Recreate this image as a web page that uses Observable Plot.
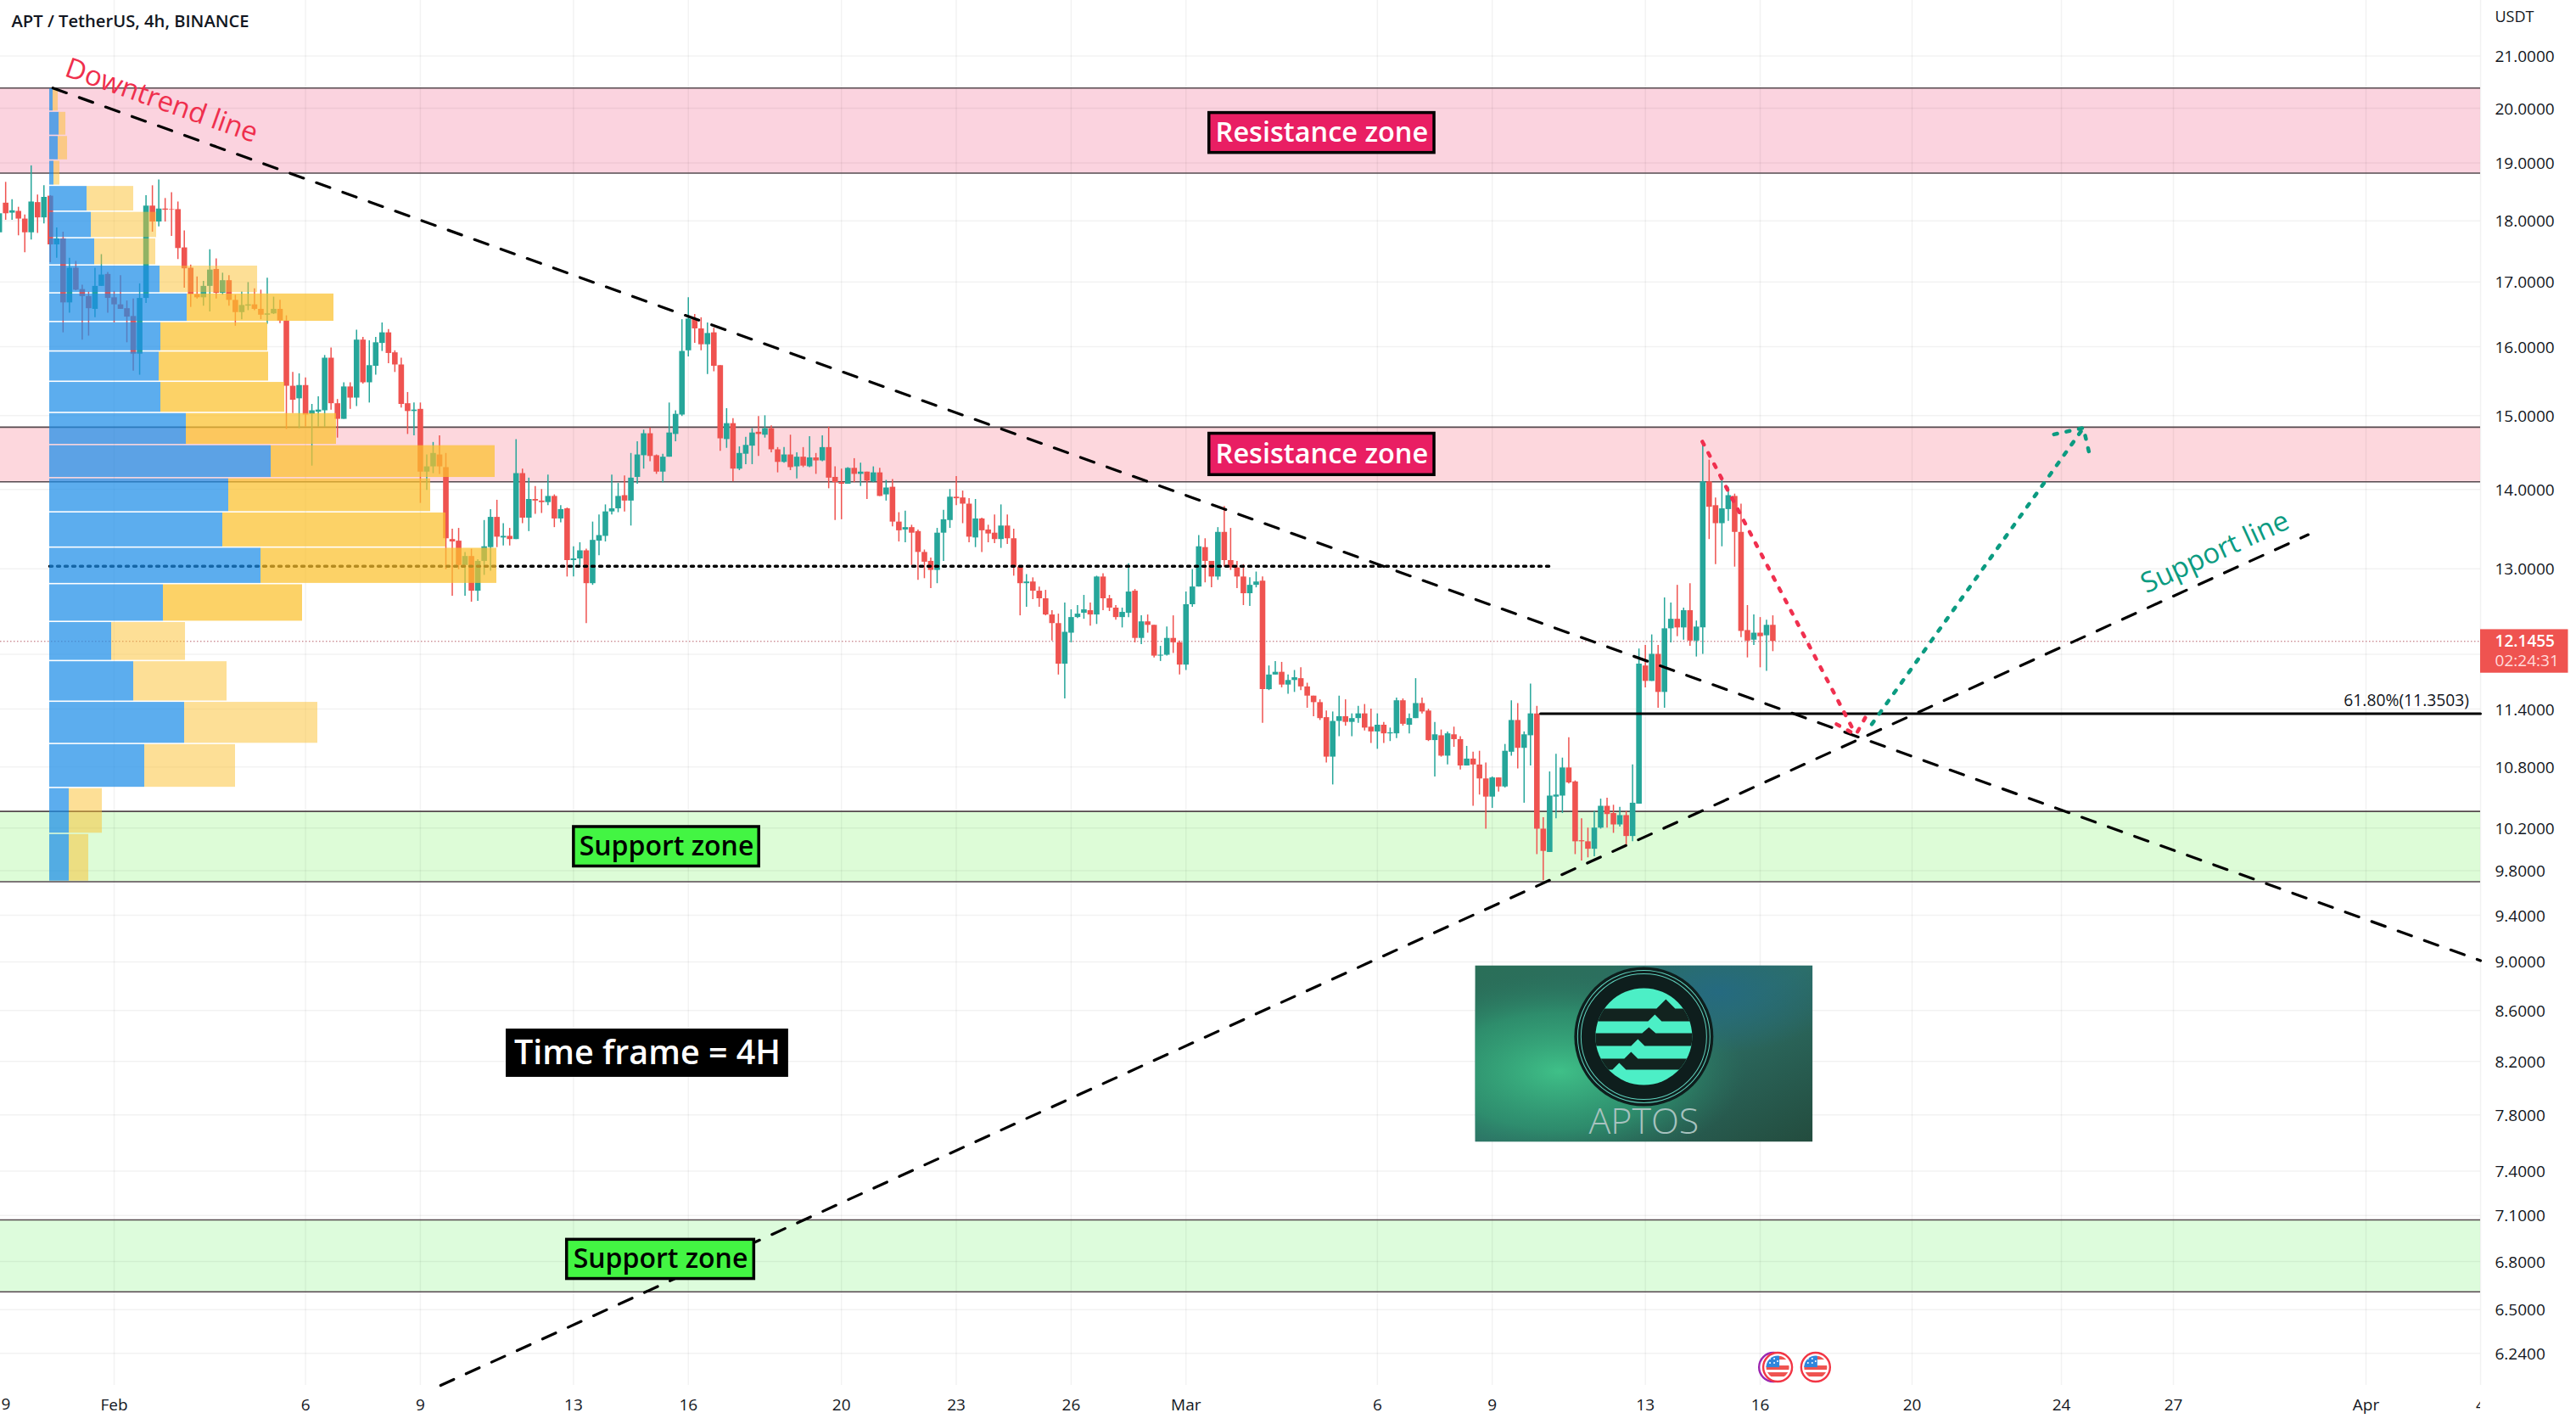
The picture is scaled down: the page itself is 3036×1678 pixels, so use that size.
<!DOCTYPE html>
<html>
<head>
<meta charset="utf-8">
<script src="https://cdn.jsdelivr.net/npm/d3@7"></script>
<script src="https://cdn.jsdelivr.net/npm/@observablehq/plot@0.6"></script>
<style>html,body{margin:0;padding:0;background:#fff;overflow:hidden}svg{display:block}</style>
</head>
<body>
<div id="chart"></div>
<script>
// APT/USDT 4h candles: [open, high, low, close]. First bar is 18 bars before 1 Feb 2023.
const barsLateJan = [[17.80,18.22,17.80,18.12],[18.30,18.66,18.01,18.12],[18.13,18.36,18.01,18.17],[18.16,18.23,17.75,18.03],[18.03,18.10,17.47,17.80],[17.80,18.95,17.68,18.32],[18.31,18.44,17.79,18.05],[18.05,18.60,17.95,18.40],[18.42,18.43,17.31,17.60],[17.60,17.88,17.38,17.70],[17.70,17.81,16.21,16.67],[16.67,17.38,16.51,17.22],[17.22,17.33,16.86,16.87],[16.88,16.95,16.10,16.77],[16.77,16.84,16.16,16.58],[16.57,17.22,16.44,16.93],[16.93,17.44,16.93,17.11],[17.12,17.15,16.51,16.74]];
const barsFeb1 = [[16.75,16.85,16.36,16.64],[16.64,17.10,16.57,16.57],[16.58,16.70,16.06,16.45],[16.46,16.73,15.64,15.89],[15.89,16.97,15.58,16.74],[16.74,18.43,16.66,18.25],[18.25,18.60,17.81,17.98],[17.98,18.70,17.90,18.20],[18.20,18.38,17.98,18.18],[18.19,18.48,17.74,18.18],[18.19,18.32,17.36,17.54],[17.55,17.83,16.90,17.21],[17.22,17.27,16.60,16.80],[16.80,17.08,16.73,16.75],[16.75,17.01,16.62,16.93],[16.93,17.52,16.53,17.19],[17.20,17.37,16.73,16.82],[16.82,17.14,16.79,17.02],[17.02,17.10,16.62,16.71],[16.71,16.79,16.31,16.52],[16.52,16.84,16.41,16.63],[16.62,16.99,16.55,16.64],[16.64,16.89,16.55,16.57],[16.57,16.87,16.41,16.48],[16.48,17.06,16.34,16.50],[16.50,16.76,16.49,16.57],[16.57,16.71,16.35,16.39],[16.39,16.47,14.81,15.42],[15.42,15.62,15.03,15.22],[15.24,15.60,14.82,15.43],[15.43,15.54,14.84,15.01],[15.02,15.16,14.31,15.07],[15.05,15.27,14.84,15.08],[15.07,15.87,14.84,15.83],[15.83,15.98,15.08,15.17],[15.17,15.23,14.69,14.95],[14.95,15.47,14.95,15.41],[15.41,15.47,15.09,15.25],[15.25,16.25,15.13,16.10],[16.10,16.14,15.45,15.47],[15.47,16.09,15.18,15.72],[15.71,16.14,15.58,16.06],[16.05,16.36,15.93,16.21],[16.21,16.26,15.75,15.90],[15.91,15.94,15.62,15.73],[15.73,15.83,15.11,15.16],[15.17,15.33,14.74,15.06],[15.06,15.18,14.72,15.08],[15.09,15.18,13.82,14.23],[14.23,14.46,13.99,14.30],[14.30,14.63,14.21,14.48],[14.46,14.72,14.20,14.30]];
const barsFeb2 = [[14.29,14.48,12.99,13.37],[13.36,13.49,12.67,13.33],[13.34,13.50,12.99,13.04],[13.04,13.20,12.67,13.15],[13.15,13.24,12.60,12.73],[12.73,13.11,12.61,13.09],[13.09,13.60,12.92,13.27],[13.26,13.74,12.97,13.64],[13.64,13.86,13.26,13.39],[13.38,13.56,13.28,13.40],[13.40,13.50,13.28,13.36],[13.36,14.67,13.36,14.21],[14.21,14.27,13.56,13.63],[13.63,14.15,13.46,13.87],[13.87,14.04,13.68,13.85],[13.85,14.00,13.69,13.83],[13.83,14.19,13.79,13.91],[13.91,13.93,13.51,13.62],[13.62,13.79,13.57,13.74],[13.75,13.76,12.90,13.10],[13.10,13.27,12.90,13.12],[13.12,13.32,13.02,13.22],[13.22,13.24,12.35,12.82],[12.82,13.58,12.80,13.35],[13.34,13.67,13.16,13.41],[13.40,13.80,13.33,13.71],[13.71,14.19,13.67,13.75],[13.75,14.08,13.70,13.91],[13.92,14.18,13.71,13.85],[13.85,14.48,13.53,14.15],[14.16,14.64,14.07,14.46],[14.45,14.80,14.27,14.75],[14.75,14.83,14.37,14.44],[14.45,14.46,14.20,14.23],[14.23,14.47,14.09,14.43],[14.43,15.18,14.43,14.76],[14.74,15.07,14.64,15.02],[15.01,16.41,14.99,15.93],[15.94,16.75,15.85,16.42],[16.42,16.49,16.05,16.27],[16.27,16.44,15.94,16.03],[16.03,16.36,15.59,16.20],[16.21,16.28,15.63,15.71],[15.72,15.72,14.51,14.68],[14.67,15.10,14.55,14.89],[14.89,14.96,14.10,14.27],[14.27,14.57,14.25,14.48],[14.47,14.70,14.33,14.59],[14.58,14.82,14.33,14.76],[14.77,14.99,14.44,14.74],[14.73,15.00,14.69,14.82],[14.82,14.86,14.49,14.53],[14.53,14.56,14.22,14.36],[14.36,14.56,14.35,14.46],[14.46,14.73,14.25,14.29],[14.30,14.49,14.14,14.43],[14.43,14.56,14.29,14.31],[14.30,14.71,14.29,14.42],[14.42,14.48,14.20,14.38],[14.38,14.72,14.37,14.56],[14.56,14.84,14.01,14.15],[14.16,14.30,13.60,14.09],[14.09,14.27,13.61,14.07],[14.07,14.29,14.07,14.28],[14.28,14.41,14.09,14.20],[14.20,14.35,14.04,14.23],[14.23,14.23,13.87,14.11],[14.10,14.30,14.09,14.22],[14.22,14.28,13.91,13.91]];
const barsFeb3 = [[13.93,14.12,13.85,14.02],[14.03,14.13,13.52,13.58],[13.58,13.70,13.33,13.47],[13.48,13.72,13.32,13.51],[13.51,13.54,13.04,13.44],[13.46,13.48,12.86,13.20],[13.20,13.23,12.88,13.08],[13.09,13.13,12.76,12.98],[12.98,13.50,12.82,13.44],[13.44,13.73,13.09,13.61],[13.60,14.00,13.50,13.90],[13.90,14.17,13.79,13.88],[13.89,13.98,13.56,13.81],[13.81,13.88,13.32,13.39],[13.38,13.87,13.26,13.62],[13.62,13.63,13.20,13.47],[13.48,13.54,13.32,13.43],[13.44,13.67,13.31,13.36],[13.36,13.80,13.25,13.53],[13.53,13.67,13.30,13.37],[13.37,13.49,12.91,13.02],[13.02,13.03,12.44,12.82],[12.82,12.93,12.54,12.84],[12.84,12.89,12.63,12.73],[12.73,12.78,12.54,12.64],[12.64,12.74,12.44,12.45],[12.45,12.50,12.15,12.35],[12.35,12.46,11.77,11.89],[11.89,12.59,11.51,12.25],[12.24,12.51,12.13,12.42],[12.42,12.56,12.41,12.46],[12.47,12.68,12.40,12.51],[12.50,12.59,12.32,12.45],[12.45,12.91,12.34,12.90],[12.90,12.94,12.50,12.64],[12.64,12.68,12.49,12.53],[12.53,12.56,12.39,12.42],[12.42,12.53,12.30,12.48],[12.47,13.06,12.42,12.72],[12.73,12.75,12.13,12.18],[12.18,12.44,12.11,12.37],[12.37,12.45,12.24,12.33],[12.33,12.33,11.96,11.98],[11.98,12.09,11.92,11.99],[11.99,12.31,11.98,12.18],[12.18,12.44,12.01,12.13],[12.13,12.15,11.77,11.88],[11.88,12.72,11.82,12.57],[12.57,12.99,12.54,12.78],[12.78,13.41,12.78,13.27],[13.26,13.37,12.83,13.09],[13.09,13.09,12.77,12.90],[12.90,13.51,12.86,13.45],[13.45,13.78,13.02,13.10],[13.10,13.50,12.98,13.01],[13.01,13.09,12.76,12.90],[12.90,13.05,12.56,12.70],[12.70,12.89,12.55,12.80],[12.80,12.96,12.77,12.84],[12.85,12.90,11.25,11.61],[11.61,11.87,11.60,11.77],[11.77,11.92,11.77,11.80],[11.80,11.91,11.63,11.66],[11.66,11.77,11.56,11.71],[11.71,11.82,11.58,11.74],[11.73,11.85,11.60,11.64],[11.64,11.68,11.41,11.54],[11.54,11.54,11.32,11.47],[11.47,11.50,11.28,11.30]];
const barsMar = [[11.31,11.38,10.84,10.90],[10.90,11.37,10.62,11.27],[11.27,11.54,11.11,11.32],[11.32,11.50,11.22,11.26],[11.26,11.35,11.11,11.30],[11.30,11.43,11.25,11.35],[11.35,11.45,11.17,11.20],[11.21,11.40,11.04,11.16],[11.16,11.35,10.98,11.23],[11.23,11.26,11.04,11.14],[11.14,11.20,11.06,11.15],[11.14,11.52,11.09,11.49],[11.49,11.51,11.22,11.24],[11.23,11.35,11.14,11.30],[11.30,11.73,11.30,11.46],[11.46,11.52,11.35,11.37],[11.38,11.40,11.06,11.07],[11.07,11.26,10.70,11.13],[11.12,11.18,10.90,10.91],[10.91,11.16,10.82,11.14],[11.13,11.21,11.00,11.08],[11.08,11.11,10.77,10.81],[10.81,11.01,10.81,10.88],[10.88,10.95,10.41,10.82],[10.82,10.96,10.52,10.68],[10.68,10.84,10.19,10.50],[10.50,10.70,10.39,10.69],[10.69,10.69,10.55,10.60],[10.60,11.03,10.59,10.96],[10.95,11.49,10.91,11.28],[11.28,11.46,10.78,10.99],[10.99,11.16,10.44,11.13],[11.12,11.67,10.81,11.35],[11.35,11.43,9.95,10.19],[10.19,10.30,9.71,9.98],[9.97,10.75,9.97,10.51],[10.50,10.93,10.29,10.52],[10.51,10.89,10.34,10.79],[10.79,11.10,10.63,10.64],[10.65,10.66,9.95,10.07],[10.08,10.29,9.89,10.07],[10.07,10.20,9.92,10.00],[10.00,10.36,9.93,10.20],[10.20,10.48,10.19,10.41],[10.41,10.49,10.20,10.33],[10.34,10.42,10.15,10.23],[10.23,10.40,10.21,10.32],[10.32,10.36,10.03,10.12],[10.12,10.82,10.07,10.44],[10.43,12.06,10.43,11.89],[11.87,12.10,11.63,11.70],[11.70,12.22,11.70,12.00],[12.00,12.10,11.41,11.58],[11.58,12.65,11.41,12.29],[12.29,12.59,12.13,12.40],[12.40,12.80,12.20,12.30],[12.30,12.53,12.16,12.50],[12.50,12.82,12.09,12.15],[12.15,12.38,11.97,12.31],[12.30,14.65,12.00,14.10],[14.10,14.39,13.36,13.77],[13.79,13.89,13.05,13.56],[13.56,14.14,13.27,13.75],[13.74,14.03,13.59,13.92],[13.91,13.94,13.02,13.45],[13.45,13.81,12.19,12.26],[12.27,12.56,11.96,12.15],[12.16,12.45,12.10,12.24],[12.24,12.42,11.85,12.20],[12.21,12.39,11.81,12.33],[12.33,12.44,12.03,12.1455]];
const firstBar = -18;

// Price axis and time axis
const priceTicks = [21,20,19,18,17,16,15,14,13,11.4,10.8,10.2,9.8,9.4,9,8.6,8.2,7.8,7.4,7.1,6.8,6.5,6.24];
const gridPrices = [...priceTicks, 12];
const dayTickDays = [5,8,12,15,19,22,25,33,36,40,43,47,51,54,62];
const dayTickLabels = ["6","9","13","16","20","23","26","6","9","13","16","20","24","27","4"];
const monthTickDays = [0,28,59];
const monthTickLabels = ["Feb","Mar","Apr"];
const edgeTickLabel = "9";

// Volume profile: price bin edges, then volume bought and sold per bin
const profileEdges = [20.38,19.935,19.49,19.045,18.6,18.155,17.71,17.265,16.82,16.375,15.93,15.485,15.04,14.595,14.15,13.705,13.26,12.815,12.37,11.925,11.48,11.035,10.59,10.145,9.7];
const profileUp = [4,11,10,5,44,49,53,130,162,131,129,131,161,261,211,204,249,134,73,99,159,112,23,23];
const profileDown = [6,8,11,7,55,77,72,115,173,126,129,146,177,264,238,263,278,164,87,110,157,107,39,23];
const profileInValueArea = [0,0,0,0,0,0,0,0,1,1,1,1,1,1,1,1,1,1,0,0,0,0,0,0];
const profileStartDay = -1.684;
const profileDayPerVolume = 1 / 45.12;

// Zones
const zoneTops = [20.38,14.84,10.36,7.07];
const zoneBottoms = [18.82,14.10,9.70,6.61];
const zoneColors = ["#fbd3df","#fdd7dd","#ddfcd7","#ddfcdc"];

// Drawings: [day since 1 Feb, price]
const downtrend = [[-1.6,20.38],[62,9.01]];
const supportLine = [[8.53,6.056],[57.5,13.42]];
const pocLine = [[-1.684,13.03],[37.5,13.03]];
const fibLine = [[37.26,11.3503],[62,11.3503]];
const redPath = [[41.49,14.64],[45.52,11.13]];
const redHead = [[45.01,11.24],[45.52,11.13],[45.85,11.37]];
const greenPath = [[45.94,11.24],[51.59,14.83]];
const greenHead = [[50.8,14.74],[51.59,14.83],[51.77,14.43]];
const lastPrice = 12.1455;

// Boxed labels: text, day range, price range, fill, text colour, size
const boxTexts = ["Resistance zone","Resistance zone","Support zone","Support zone","Time frame = 4H"];
const boxDays = [[28.61,34.49],[28.61,34.49],[12.01,16.85],[11.83,16.72],[10.28,17.58]];
const boxPrices = [[19.18,19.91],[14.19,14.75],[9.84,10.21],[6.69,6.94],[8.09,8.44]];
const boxFills = ["#e91e63","#e91e63","#43f543","#43f543","#000000"];
const boxInks = ["#ffffff","#ffffff","#000000","#000000","#ffffff"];
const boxSizes = [32.5,32.5,32,32,39.5];

const t0 = Date.UTC(2023,1,1);
const day = d => new Date(t0 + d * 864e5);
const bars = [...barsLateJan,...barsFeb1,...barsFeb2,...barsFeb3,...barsMar].map((b,i)=>({
  t: new Date(t0 + (firstBar+i)*4*36e5), o:b[0], h:b[1], l:b[2], c:b[3], up:b[3]>=b[0]
}));
const zones = zoneTops.map((t,i)=>({t,b:zoneBottoms[i],f:zoneColors[i]}));
const profile = profileUp.map((u,i)=>{
  const x1 = profileStartDay, x2 = x1+u*profileDayPerVolume, x3 = x2+profileDown[i]*profileDayPerVolume;
  return {top:profileEdges[i],bot:profileEdges[i+1],x1:day(x1),x2:day(x2),x3:day(x3),va:profileInValueArea[i]};
});
const boxes = boxTexts.map((s,i)=>({s,x1:day(boxDays[i][0]),x2:day(boxDays[i][1]),y1:boxPrices[i][0],y2:boxPrices[i][1],
  xm:day((boxDays[i][0]+boxDays[i][1])/2),ym:Math.sqrt(boxPrices[i][0]*boxPrices[i][1]),f:boxFills[i],k:boxInks[i],fs:boxSizes[i]}));
const pts = a => a.map(([d,p])=>({x:day(d),y:p}));
const FONT = "Open Sans";

const svgUri = s => "data:image/svg+xml;utf8," + encodeURIComponent(s);
const logoSvg = `<svg xmlns="http://www.w3.org/2000/svg" width="398" height="208" viewBox="0 0 398 208">
<defs>
<linearGradient id="b" x1="0" x2="1" y1="0" y2="1"><stop offset="0" stop-color="#2a6f58"/><stop offset=".5" stop-color="#2d6f66"/><stop offset="1" stop-color="#234c3e"/></linearGradient>
<radialGradient id="g" cx=".25" cy=".6" r=".55"><stop offset="0" stop-color="#3fc088"/><stop offset=".6" stop-color="#2f9a72" stop-opacity=".7"/><stop offset="1" stop-color="#2a7a60" stop-opacity="0"/></radialGradient>
<radialGradient id="t" cx=".72" cy=".15" r=".35"><stop offset="0" stop-color="#256a80"/><stop offset="1" stop-color="#256a80" stop-opacity="0"/></radialGradient>
<clipPath id="d"><circle cx="199" cy="84" r="57"/></clipPath>
</defs>
<rect width="398" height="208" fill="url(#b)"/><rect width="398" height="208" fill="url(#g)"/><rect width="398" height="208" fill="url(#t)"/>
<circle cx="199" cy="84" r="82" fill="#0e1e1d"/>
<circle cx="199" cy="84" r="78" fill="none" stroke="#5fd0bc" stroke-width="1"/><circle cx="199" cy="84" r="74" fill="none" stroke="#5fd0bc" stroke-width="1"/>
<g clip-path="url(#d)"><rect x="130" y="20" width="140" height="130" fill="#4cefc6"/>
<path d="M130 51H214L225 40L236 51H270V66H220L212 58L204 66H130Z" fill="#12231f"/>
<path d="M130 80H197L205 73L213 80H270V95H200L192 87L184 95H130Z" fill="#12231f"/>
<path d="M130 110H176L184 102L192 110H270V123H178L170 115L162 123H130Z" fill="#12231f"/>
</g></svg>`;
const flagSvg = `<svg xmlns="http://www.w3.org/2000/svg" width="38" height="38" viewBox="0 0 38 38">
<defs><clipPath id="c"><circle cx="19" cy="19" r="13.5"/></clipPath></defs>
<circle cx="19" cy="19" r="17" fill="#fff" stroke="#f23645" stroke-width="2.4"/>
<g clip-path="url(#c)"><rect x="4" y="17" width="30" height="5" fill="#ef5350"/><rect x="4" y="25" width="30" height="5" fill="#ef5350"/><rect x="19" y="6" width="14" height="4" fill="#ef5350"/>
<rect x="4" y="4" width="17" height="15" fill="#2f86dc"/>
<g fill="#fff"><circle cx="10" cy="9" r="1"/><circle cx="15" cy="9" r="1"/><circle cx="10" cy="14" r="1"/><circle cx="15" cy="14" r="1"/><circle cx="19" cy="12" r="1"/></g></g></svg>`;

const gridInk = "#000";
const chart = Plot.plot({
  width: 3036, height: 1678,
  marginTop: 0, marginLeft: 0, marginRight: 113, marginBottom: 46,
  style: {fontFamily: FONT, background: "#fff", overflow: "hidden"},
  x: {type: "utc", domain: [-2.97,0,43,47,54,59,62].map(day), range: [0,134,2074,2253,2561,2788,2923], label: null},
  y: {type: "log", domain: [6.056,22.12], range: [1632,0], label: null},
  marks: [
    Plot.rect(zones,{x1:day(-2.97),x2:day(62),y1:"b",y2:"t",fill:"f"}),
    Plot.gridX([-3,...dayTickDays,...monthTickDays].map(day),{stroke:gridInk,strokeOpacity:.05,strokeWidth:1.5}),
    Plot.gridY(gridPrices,{stroke:gridInk,strokeOpacity:.05,strokeWidth:1.5}),
    Plot.ruleY(zones.flatMap(z=>[z.t,z.b]),{x1:day(-2.97),x2:day(62),stroke:"#55494e",strokeWidth:1.6}),
    Plot.ruleY([lastPrice],{x1:day(-2.97),x2:day(62),stroke:"#b7606a",strokeWidth:1,strokeDasharray:"1.5,2.5"}),
    // candles
    Plot.ruleX(bars,{x:"t",y1:"l",y2:"h",stroke:d=>d.up?"#26a69a":"#ef5350",strokeWidth:1.5}),
    Plot.ruleX(bars,{x:"t",y1:"o",y2:"c",stroke:d=>d.up?"#26a69a":"#ef5350",strokeWidth:6.6}),
    // point-of-control
    Plot.line(pts(pocLine),{x:"x",y:"y",stroke:"#000",strokeWidth:3.5,strokeDasharray:"3,6"}),
    // volume profile
    Plot.rect(profile,{x1:"x1",x2:"x2",y1:"bot",y2:"top",fill:"#1d8ee8",fillOpacity:.72,insetTop:.8,insetBottom:.8}),
    Plot.rect(profile,{x1:"x2",x2:"x3",y1:"bot",y2:"top",fill:"#fbc02d",fillOpacity:d=>d.va?.72:.5,insetTop:.8,insetBottom:.8}),
    // trend lines
    Plot.line(pts(downtrend),{x:"x",y:"y",stroke:"#000",strokeWidth:3.2,strokeDasharray:"17,16"}),
    Plot.line(pts(supportLine),{x:"x",y:"y",stroke:"#000",strokeWidth:3.2,strokeDasharray:"17,16"}),
    Plot.line(pts(fibLine),{x:"x",y:"y",stroke:"#000",strokeWidth:3}),
    Plot.text(["61.80%(11.3503)"],{x:day(61.7),y:11.49,text:d=>d,textAnchor:"end",fontSize:19.3,fill:"#131722",fontFamily:FONT}),
    // forecast arrows
    Plot.line(pts(redPath),{x:"x",y:"y",stroke:"#f0304f",strokeWidth:4.5,strokeDasharray:"4,11"}),
    Plot.line(pts(redHead),{x:"x",y:"y",stroke:"#f0304f",strokeWidth:4.5,strokeDasharray:"4,11"}),
    Plot.line(pts(greenPath),{x:"x",y:"y",stroke:"#0b9b81",strokeWidth:4.5,strokeDasharray:"4,11"}),
    Plot.line(pts(greenHead),{x:"x",y:"y",stroke:"#0b9b81",strokeWidth:4.5,strokeDasharray:"4,11"}),
    // boxed labels
    Plot.rect(boxes,{x1:"x1",x2:"x2",y1:"y1",y2:"y2",fill:"f",stroke:"#000",strokeWidth:3.5}),
    Plot.text(boxes,{x:"xm",y:"ym",text:"s",fill:"k",fontSize:"fs",fontWeight:600,fontFamily:FONT}),
    // slanted notes
    Plot.text(["Downtrend line"],{x:day(1.24),y:20.14,text:d=>d,rotate:19.5,fontSize:33,fill:"#ef2f4d",fontWeight:500,fontFamily:FONT}),
    Plot.text(["Support line"],{x:day(55.08),y:13.20,text:d=>d,rotate:-24.5,fontSize:33,fill:"#0b9b81",fontWeight:500,fontFamily:FONT}),
    // logo
    Plot.image([{}],{x:day(39.96),y:8.26,width:398,height:208,src:svgUri(logoSvg),preserveAspectRatio:"none"}),
    Plot.text(["APTOS"],{x:day(39.96),y:7.75,text:d=>d,fontSize:43,fontWeight:300,fill:"#a7c2bf",fontFamily:FONT}),
    // event flags
    Plot.dot([{}],{x:day(43.35),y:6.16,r:17,stroke:"#9c27b0",strokeWidth:2.4,fill:"#fff"}),
    Plot.image([{}],{x:day(43.46),y:6.16,width:38,height:38,src:svgUri(flagSvg)}),
    Plot.image([{}],{x:day(44.46),y:6.16,width:38,height:38,src:svgUri(flagSvg)}),
    // axes
    Plot.axisX(dayTickDays.map(day),{anchor:"bottom",tickSize:0,tickPadding:16,fontSize:19,fill:"#131722",label:null,tickFormat:d=>dayTickLabels[dayTickDays.indexOf((+d-t0)/864e5)]}),
    Plot.axisX(monthTickDays.map(day),{anchor:"bottom",tickSize:0,tickPadding:16,fontSize:19,fontWeight:500,fill:"#131722",label:null,tickFormat:d=>monthTickLabels[monthTickDays.indexOf((+d-t0)/864e5)]}),
    Plot.text([edgeTickLabel],{x:day(-2.97),y:5.95,text:d=>d,textAnchor:"start",dx:1,fontSize:19,fill:"#131722",fontFamily:FONT}),
    Plot.rect([{}],{x1:day(62),x2:day(65),y1:5.78,y2:6.056,fill:"#fff"}),
    Plot.axisY(priceTicks,{anchor:"right",tickSize:0,tickPadding:17,fontSize:19,fill:"#131722",label:null,tickFormat:d3.format(".4f"),textAnchor:"start",dy:1}),
    Plot.text(["USDT"],{frameAnchor:"top-right",dx:17,dy:13,text:d=>d,textAnchor:"start",lineAnchor:"top",fontSize:18,fill:"#131722",fontFamily:FONT}),
    Plot.rect([{}],{x1:day(62),x2:day(64.3),y1:11.79,y2:12.28,fill:"#ef5350"}),
    Plot.text([lastPrice],{x:day(62.38),y:lastPrice,text:d=>d3.format(".4f")(d),textAnchor:"start",fontSize:19,fontWeight:600,fill:"#fff",fontFamily:FONT}),
    Plot.text(["02:24:31"],{x:day(62.38),y:11.92,text:d=>d,textAnchor:"start",fontSize:19,fill:"#ffdcdc",fontFamily:FONT}),
    Plot.text(["APT / TetherUS, 4h, BINANCE"],{frameAnchor:"top-left",dx:13,dy:17,text:d=>d,textAnchor:"start",lineAnchor:"top",fontSize:20.2,fontWeight:600,fill:"#131722",fontFamily:FONT})
  ]
});
document.getElementById("chart").appendChild(chart);
</script>
</body>
</html>
